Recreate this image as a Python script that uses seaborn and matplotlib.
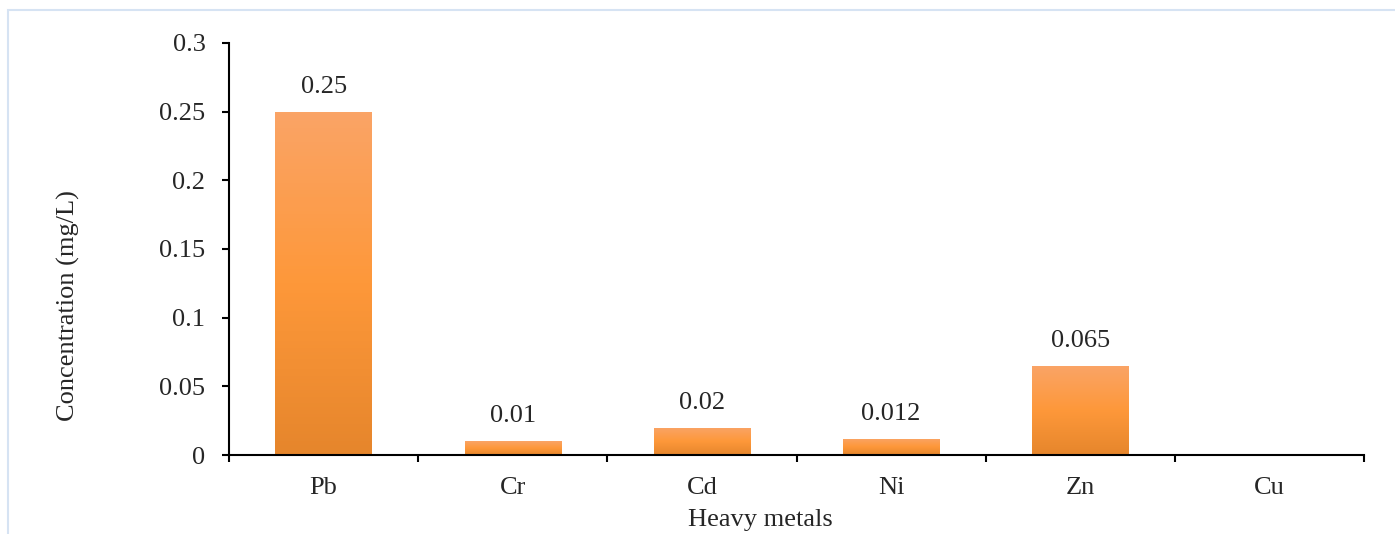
import numpy as np
import pandas as pd
import matplotlib
matplotlib.use("Agg")
import matplotlib.pyplot as plt
from matplotlib.colors import LinearSegmentedColormap
from matplotlib.patches import Rectangle
import seaborn as sns

# --- data ---
metals = ["Pb", "Cr", "Cd", "Ni", "Zn", "Cu"]
conc = [0.25, 0.01, 0.02, 0.012, 0.065, 0.0004]
labels = ["0.25", "0.01", "0.02", "0.012", "0.065", ""]
yticks = [0, 0.05, 0.1, 0.15, 0.2, 0.25, 0.3]
ytick_labels = ["0", "0.05", "0.1", "0.15", "0.2", "0.25", "0.3"]

df = pd.DataFrame({"metal": metals, "conc": conc})

sns.set_style("white")
plt.rcParams["font.family"] = ["Liberation Serif", "DejaVu Serif"]
FS = 19

fig = plt.figure(figsize=(13.95, 5.34), dpi=100)
# light blue frame of the original figure box
fig.patches.append(Rectangle((8 / 1395, -0.05), 1.2, 1 - 10 / 534 + 0.05,
                             transform=fig.transFigure, fill=False,
                             edgecolor="#d6e3f3", linewidth=1.5))

ax = fig.add_axes([229 / 1395, 1 - 455 / 534, 1135 / 1395, 412 / 534])
sns.barplot(data=df, x="metal", y="conc", ax=ax, width=0.51,
            color="#ff9a3c", saturation=1)

# vertical orange gradient inside each bar (Excel-style fill)
grad = LinearSegmentedColormap.from_list("og", ["#e6862c", "#fe983a", "#faa466"])
for p in ax.patches:
    x0, y0 = p.get_x(), p.get_y()
    w, h = p.get_width(), p.get_height()
    img = ax.imshow(np.linspace(0, 1, 100).reshape(-1, 1), cmap=grad,
                    extent=[x0, x0 + w, y0, y0 + h], origin="lower",
                    aspect="auto", zorder=2)
    img.set_clip_path(p)
    p.set_facecolor("none")
    p.set_edgecolor("none")

for i, (v, lab) in enumerate(zip(conc, labels)):
    if lab:
        ax.annotate(lab, (i, v), xytext=(0, 10), textcoords="offset points",
                    ha="center", va="bottom", fontsize=FS)

ax.set_xlim(-0.5, len(metals) - 0.5)
ax.set_ylim(0, 0.3)
ax.set_yticks(yticks)
ax.set_yticklabels(ytick_labels)
ax.set_xticks(np.arange(-0.5, len(metals)), minor=True)
ax.tick_params(axis="x", which="major", bottom=True, length=0, pad=16, labelsize=FS)
ax.tick_params(axis="x", which="minor", bottom=True, length=5, width=1.5,
               direction="out", color="black")
ax.tick_params(axis="y", left=True, length=5, width=1.5, direction="out",
               color="black", pad=12, labelsize=FS)

for s in ["top", "right"]:
    ax.spines[s].set_visible(False)
for s in ["left", "bottom"]:
    ax.spines[s].set_color("black")
    ax.spines[s].set_linewidth(1.5)
    ax.spines[s].set_zorder(5)

ax.set_xlabel("Heavy metals", fontsize=FS)
ax.xaxis.set_label_coords(0.468, -0.13)
ax.set_ylabel("Concentration (mg/L)", fontsize=FS)
ax.yaxis.set_label_coords(-0.131, 0.362)

fig.savefig("out.png", dpi=100)
